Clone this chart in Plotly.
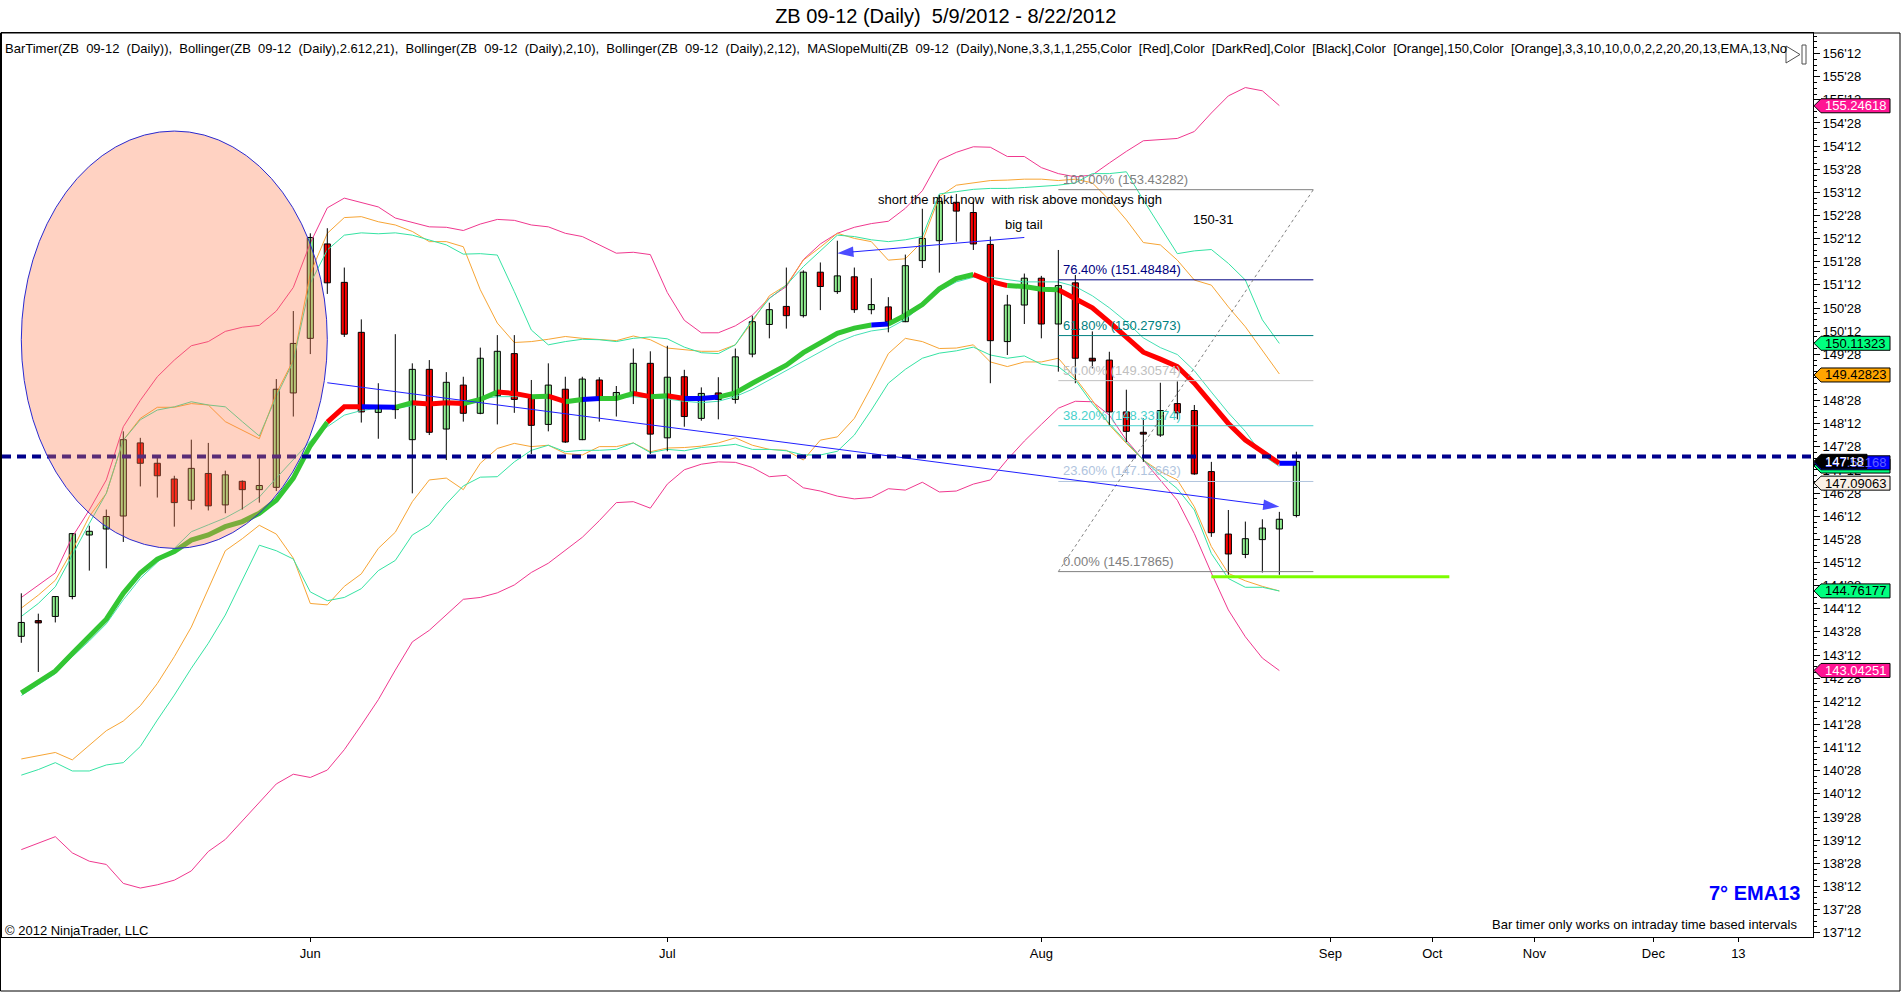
import plotly.graph_objects as go

# ZB 09-12 daily bars, index 0 = 5/9/2012 ... index 75 = 8/22/2012
opens = [143.78, 144.12, 144.21, 144.64, 145.97, 146.10, 146.38, 147.96, 147.52, 147.18,
         146.72, 147.30, 146.62, 147.13, 146.95, 147.00, 149.04, 150.22, 152.26, 151.43,
         150.35, 148.62, 148.75, 148.03, 149.55, 148.26, 149.21, 148.60, 148.98, 149.89,
         148.92, 148.36, 149.12, 148.03, 149.32, 148.90, 149.03, 149.68, 148.07, 149.39,
         148.49, 149.04, 148.90, 149.88, 150.52, 150.91, 150.71, 151.65, 151.23, 151.55,
         150.84, 150.90, 150.58, 151.90, 152.33, 153.16, 152.94, 152.25, 150.15, 150.94,
         151.52, 150.53, 151.42, 149.79, 149.75, 148.63, 148.19, 148.13, 148.81, 148.66,
         147.34, 145.99, 145.55, 145.87, 146.10, 146.39]
highs = [144.71, 144.27, 144.65, 146.01, 146.17, 146.52, 148.21, 148.07, 147.68, 147.25,
         148.03, 147.96, 147.36, 147.15, 147.68, 149.34, 150.81, 152.49, 152.60, 151.75,
         150.63, 149.25, 150.31, 149.68, 149.75, 149.49, 149.39, 150.02, 150.29, 150.29,
         149.32, 149.68, 149.39, 149.39, 149.38, 149.19, 150.00, 149.94, 150.06, 149.54,
         149.16, 149.38, 150.00, 150.71, 150.99, 151.75, 151.69, 151.86, 152.33, 151.75,
         151.52, 151.11, 152.03, 153.02, 153.32, 153.34, 153.18, 152.42, 151.16, 151.62,
         151.57, 152.13, 151.59, 150.37, 149.93, 149.11, 148.49, 149.26, 149.29, 148.78,
         147.55, 146.51, 146.26, 146.31, 146.47, 147.77]
lows = [143.64, 143.01, 144.08, 144.58, 145.20, 145.25, 145.82, 147.02, 146.78, 146.15,
        146.52, 146.50, 146.44, 146.52, 146.67, 146.92, 148.53, 149.88, 151.18, 150.25,
        148.40, 148.05, 148.48, 146.87, 148.13, 147.59, 148.42, 148.58, 148.36, 148.61,
        147.72, 148.21, 147.96, 148.02, 148.42, 148.53, 148.80, 147.72, 147.78, 148.31,
        148.44, 148.47, 148.81, 149.81, 150.22, 150.43, 150.67, 150.83, 151.18, 150.77,
        150.74, 150.35, 150.57, 151.74, 151.64, 152.31, 152.13, 149.25, 149.86, 150.53,
        150.22, 149.50, 149.25, 149.57, 148.35, 147.98, 147.55, 148.09, 148.47, 147.27,
        145.93, 145.11, 145.47, 145.16, 145.11, 146.35]
closes = [144.08, 144.07, 144.64, 146.00, 146.05, 146.37, 148.03, 147.52, 147.25, 146.67,
          147.41, 146.60, 147.27, 146.95, 147.04, 149.12, 150.11, 152.40, 151.42, 150.31,
          148.63, 148.76, 148.68, 149.55, 148.19, 149.27, 148.60, 149.79, 149.94, 148.90,
          148.34, 149.21, 147.98, 149.34, 148.92, 149.05, 149.68, 148.15, 149.38, 148.53,
          149.03, 148.90, 149.82, 150.58, 150.84, 150.71, 151.65, 151.34, 151.57, 150.84,
          150.95, 150.58, 151.79, 152.38, 153.18, 152.97, 152.26, 150.17, 150.94, 151.52,
          150.53, 151.36, 149.79, 149.73, 148.63, 148.21, 148.15, 148.66, 148.61, 147.29,
          146.02, 145.56, 145.89, 146.12, 146.31, 147.56]
darkred_bars = [1, 63, 66]

# Bollinger(2.612,21)
pink_upper = [144.62, 144.89, 145.15, 145.93, 146.51, 147.16, 148.31, 148.88, 149.39, 149.75,
              150.06, 150.15, 150.37, 150.46, 150.50, 150.81, 151.32, 152.28, 153.04, 153.25,
              153.16, 153.06, 152.82, 152.72, 152.63, 152.62, 152.55, 152.69, 152.79, 152.77,
              152.67, 152.63, 152.49, 152.42, 152.24, 152.06, 152.08, 152.03, 151.21, 150.61,
              150.34, 150.34, 150.49, 150.72, 151.09, 151.34, 151.92, 152.26, 152.49, 152.62,
              152.70, 152.75, 153.03, 153.41, 154.07, 154.24, 154.36, 154.35, 154.15, 154.15,
              153.91, 153.78, 153.71, 153.75, 154.01, 154.26, 154.49, 154.51, 154.54, 154.69,
              155.09, 155.46, 155.64, 155.57, 155.25]
pink_lower = [139.17, 139.31, 139.45, 139.10, 138.92, 138.85, 138.44, 138.34, 138.41, 138.51,
              138.71, 139.13, 139.39, 139.79, 140.19, 140.59, 140.80, 140.73, 140.89, 141.33,
              141.86, 142.41, 143.05, 143.66, 143.91, 144.24, 144.58, 144.62, 144.72, 144.89,
              145.16, 145.36, 145.63, 145.92, 146.28, 146.67, 146.69, 146.55, 147.07, 147.38,
              147.50, 147.55, 147.54, 147.43, 147.23, 147.26, 146.99, 146.92, 146.81, 146.75,
              146.78, 146.97, 146.94, 147.11, 146.90, 146.92, 147.07, 147.16, 147.60, 148.00,
              148.36, 148.71, 148.86, 148.85, 148.56, 148.02, 147.59, 147.16, 146.72, 146.00,
              145.15, 144.35, 143.77, 143.31, 143.04]
# Bollinger(2,10)
orange_upper = [144.39, 144.67, 144.99, 145.64, 146.37, 146.87, 148.02, 148.49, 148.73, 148.73,
                148.81, 148.78, 148.42, 148.24, 148.05, 149.03, 149.75, 151.62, 152.49, 152.83,
                152.85, 152.74, 152.67, 152.53, 152.31, 152.31, 152.20, 151.27, 150.55, 150.13,
                150.15, 150.20, 150.26, 150.22, 150.20, 150.17, 150.27, 150.19, 150.01, 149.97,
                149.94, 149.94, 150.08, 150.58, 151.14, 151.37, 151.91, 152.19, 152.49, 152.38,
                152.31, 151.91, 151.94, 152.31, 153.28, 153.53, 153.58, 153.63, 153.64, 153.66,
                153.66, 153.63, 153.66, 153.58, 153.21, 152.78, 152.29, 152.24, 151.91, 151.48,
                151.37, 150.90, 150.47, 149.96, 149.45]
orange_lower = [141.13, 141.20, 141.27, 141.11, 141.43, 141.74, 141.95, 142.28, 142.76, 143.34,
                143.98, 144.81, 145.63, 145.89, 146.18, 145.99, 145.47, 144.49, 144.46, 144.86,
                145.13, 145.68, 146.03, 146.69, 147.16, 147.20, 146.95, 147.52, 147.84, 147.95,
                147.88, 147.91, 147.73, 147.70, 147.88, 147.88, 147.96, 147.77, 147.85, 147.86,
                147.89, 147.96, 148.07, 147.91, 147.82, 147.80, 147.59, 148.02, 148.09, 148.49,
                149.17, 149.89, 150.22, 150.15, 150.00, 150.01, 150.08, 149.71, 149.61, 149.71,
                149.71, 149.79, 149.36, 148.88, 148.35, 147.95, 147.59, 147.34, 147.16, 146.58,
                145.72, 145.14, 144.98, 144.86, 144.76]
# Bollinger(2,12)
teal_upper = [144.21, 144.49, 144.85, 145.54, 146.22, 146.87, 148.02, 148.46, 148.67, 148.74,
              148.85, 148.78, 148.74, 148.42, 148.11, 148.96, 149.72, 151.41, 152.13, 152.45,
              152.50, 152.48, 152.50, 152.45, 152.35, 152.24, 152.04, 152.05, 152.02, 151.23,
              150.40, 150.08, 150.15, 150.20, 150.19, 150.15, 150.22, 150.25, 150.21, 150.03,
              149.91, 149.89, 150.08, 150.62, 151.08, 151.37, 151.77, 152.12, 152.45, 152.42,
              152.35, 152.31, 152.35, 152.42, 153.34, 153.39, 153.44, 153.46, 153.46, 153.48,
              153.51, 153.53, 153.58, 153.78, 153.78, 153.82, 153.21, 152.63, 152.05, 152.11,
              152.14, 151.84, 151.48, 150.62, 150.11]
teal_lower = [140.78, 140.90, 141.05, 140.87, 140.87, 141.00, 141.05, 141.40, 141.97, 142.51,
              143.09, 143.63, 144.24, 144.99, 145.75, 145.63, 145.45, 144.74, 144.55, 144.62,
              144.81, 145.20, 145.42, 145.97, 146.19, 146.64, 147.03, 147.22, 147.23, 147.55,
              147.80, 147.91, 147.77, 147.80, 147.80, 147.82, 147.96, 147.75, 147.82, 147.79,
              147.86, 147.89, 147.93, 147.82, 147.82, 147.79, 147.70, 147.70, 147.78, 148.13,
              148.67, 149.25, 149.55, 149.79, 149.90, 149.95, 150.03, 149.86, 149.79, 149.84,
              149.66, 149.61, 149.32, 148.81, 148.38, 147.98, 147.59, 147.27, 146.97, 146.51,
              145.57, 145.03, 144.84, 144.84, 144.76]
teal_mid = [142.50, 142.73, 142.97, 143.34, 143.68, 144.05, 144.57, 145.03, 145.38, 145.68,
            146.04, 146.19, 146.34, 146.54, 146.79, 147.20, 147.60, 148.00, 148.31, 148.56,
            148.66, 148.71, 148.71, 148.76, 148.81, 148.86, 148.86, 148.91, 148.96, 148.96,
            148.96, 148.93, 148.89, 148.91, 148.91, 148.93, 148.96, 148.93, 148.91, 148.86,
            148.83, 148.86, 148.96, 149.12, 149.32, 149.52, 149.72, 149.92, 150.13, 150.28,
            150.38, 150.43, 150.63, 150.94, 151.24, 151.44, 151.54, 151.54, 151.49, 151.44,
            151.44, 151.44, 151.34, 151.14, 150.88, 150.58, 150.23, 150.02, 149.87, 149.52,
            149.06, 148.61, 148.21, 147.70, 147.45]
# MASlopeMulti EMA13, slope colour per bar (G up, R down, B flat)
ema13 = [142.56, 142.80, 143.03, 143.41, 143.77, 144.15, 144.71, 145.15, 145.45, 145.61,
         145.86, 145.97, 146.15, 146.26, 146.44, 146.72, 147.20, 147.90, 148.41, 148.74,
         148.74, 148.73, 148.73, 148.83, 148.80, 148.83, 148.81, 148.90, 149.06, 149.03,
         148.96, 148.97, 148.85, 148.90, 148.92, 148.92, 149.03, 148.96, 148.98, 148.92,
         148.92, 148.95, 149.04, 149.25, 149.45, 149.64, 149.91, 150.11, 150.33, 150.44,
         150.51, 150.53, 150.72, 150.95, 151.29, 151.51, 151.60, 151.45, 151.36, 151.34,
         151.28, 151.27, 151.09, 150.88, 150.57, 150.25, 149.92, 149.77, 149.61, 149.25,
         148.81, 148.38, 148.02, 147.77, 147.52, 147.52]
ema_slope = ("GGGGGGGGGGGGGGGGGGG"
             "RRBBGRRRGGRRGRGBGGRGRBB"
             "GGGGGGGGGBGGGGGRRGGG"
             "RRRRRRRRRRRRRB")

# drawings
hline_level = 147.665
last_price = 147.5625
ellipse_box = [0.0, 18.0, 145.68, 154.70]
arrow_short = ([59.0, 48.0], [152.40, 152.06])
arrow_long = ([18.0, 74.0], [149.26, 146.58])
support_line = ([70, 84], [145.07, 145.07])
fib_x = [61, 76]
fib_pct = ["100.00%", "76.40%", "61.80%", "50.00%", "38.20%", "23.60%", "0.00%"]
fib_val = [153.43282, 151.48484, 150.27973, 149.30574, 148.33174, 147.12663, 145.17865]
fib_col = ["#808080", "#000080", "#008080", "#c0c0c0", "#48d1cc", "#b0c4de", "#808080"]
notes = [("short the mkt. now \u00a0with risk above mondays high", 50.3, 153.21),
         ("big tail", 57.75, 152.68),
         ("150-31", 68.8, 152.79)]

x_tick_pos = [17, 38, 60, 77, 83, 89, 96, 101]
x_tick_text = ["Jun", "Jul", "Aug", "Sep", "Oct", "Nov", "Dec", "13"]
y_tick_text = ["137'12", "137'28", "138'12", "138'28", "139'12", "139'28", "140'12", "140'28",
               "141'12", "141'28", "142'12", "142'28", "143'12", "143'28", "144'12", "144'28",
               "145'12", "145'28", "146'12", "146'28", "147'12", "147'28", "148'12", "148'28",
               "149'12", "149'28", "150'12", "150'28", "151'12", "151'28", "152'12", "152'28",
               "153'12", "153'28", "154'12", "154'28", "155'12", "155'28", "156'12"]
y_tick_vals = [int(t.split("'")[0]) + int(t.split("'")[1]) / 32 for t in y_tick_text]

# price markers on the right axis: value, fill, text colour, text
tags = [(155.24618, "#ff1493", "white", "155.24618"),
        (150.11323, "#00ff7f", "black", "150.11323"),
        (149.42823, "#ffa500", "black", "149.42823"),
        (147.09063, "#faf0e6", "black", "147.09063"),
        (144.76177, "#00ff7f", "black", "144.76177"),
        (143.04251, "#ff1493", "white", "143.04251")]

FONT = "Liberation Sans, Arial, sans-serif"
W, H = 1903, 994
L, R, T, B = 2, 90, 33, 57
plot_w = W - L - R
plot_h = H - T - B
y_range = [137.282, 156.819]
x_range = [-1.135, 105.39]
px_per_pt = plot_h / (y_range[1] - y_range[0])


def px(xp):
    return (xp - L) / plot_w


def py(yp):
    return 1 - (yp - T) / plot_h


fig = go.Figure()

# bollinger bands
for vals, col in [(pink_upper, "#f0388f"), (pink_lower, "#f0388f"),
                  (orange_upper, "#f7a535"), (orange_lower, "#f7a535"),
                  (teal_upper, "#35e3a3"), (teal_lower, "#35e3a3"),
                  (teal_mid, "#45e0b5")]:
    fig.add_trace(go.Scatter(x=list(range(len(vals))), y=vals, mode="lines",
                             line=dict(color=col, width=1), hoverinfo="skip"))

# EMA13 coloured by slope
ema_colors = {"G": "#33c633", "R": "#ff0000", "B": "#0000ff"}
i = 1
while i < len(ema13):
    j = i
    while j + 1 < len(ema13) and ema_slope[j + 1] == ema_slope[i]:
        j += 1
    fig.add_trace(go.Scatter(x=list(range(i - 1, j + 1)), y=ema13[i - 1:j + 1], mode="lines",
                             line=dict(color=ema_colors[ema_slope[i]], width=5),
                             hoverinfo="skip"))
    i = j + 1

# candles: wicks then bodies
wx, wy = [], []
for k in range(len(opens)):
    wx += [k, k, None]
    wy += [lows[k], highs[k], None]
fig.add_trace(go.Scatter(x=wx, y=wy, mode="lines", line=dict(color="black", width=1),
                         hoverinfo="skip"))

body_x, body_base, body_h, body_col = [], [], [], []
for k in range(len(opens)):
    body_x.append(k)
    body_base.append(min(opens[k], closes[k]))
    body_h.append(abs(closes[k] - opens[k]))
    if k in darkred_bars:
        body_col.append("#8b0000")
    elif closes[k] >= opens[k]:
        body_col.append("#90ee90")
    else:
        body_col.append("#ff0000")
fig.add_trace(go.Bar(x=body_x, y=body_h, base=body_base, width=0.36,
                     marker=dict(color=body_col, line=dict(color="black", width=1)),
                     hoverinfo="skip"))

# fibonacci retracement
for pct, val, col in zip(fib_pct, fib_val, fib_col):
    fig.add_trace(go.Scatter(x=fib_x, y=[val, val], mode="lines",
                             line=dict(color=col, width=1), hoverinfo="skip"))
    fig.add_annotation(x=fib_x[0] + 0.15, y=val, xref="x", yref="y", text=f"{pct} ({val:.5f})",
                       showarrow=False, xanchor="left", yanchor="bottom", yshift=1,
                       font=dict(family=FONT, size=13, color=col))
fig.add_trace(go.Scatter(x=fib_x, y=[fib_val[-1], fib_val[0]], mode="lines",
                         line=dict(color="#808080", width=1, dash="dot"), hoverinfo="skip"))

# trend lines with arrow heads
for ax_, ay_ in [arrow_short, arrow_long]:
    fig.add_trace(go.Scatter(x=ax_, y=ay_, mode="lines+markers",
                             line=dict(color="#2020ff", width=1),
                             marker=dict(symbol="arrow", size=[0, 17], color="#0000ff",
                                         angleref="previous", line=dict(width=0)),
                             hoverinfo="skip"))

fig.add_trace(go.Scatter(x=support_line[0], y=support_line[1], mode="lines",
                         line=dict(color="#7cfc00", width=3), hoverinfo="skip"))

for txt, nx, ny in notes:
    fig.add_annotation(x=nx, y=ny, xref="x", yref="y", text=txt, showarrow=False,
                       xanchor="left", yanchor="middle",
                       font=dict(family=FONT, size=13, color="black"))

# dashed horizontal line and the ellipse
fig.add_shape(type="line", xref="paper", yref="y", x0=0, x1=1,
              y0=hline_level, y1=hline_level, layer="above",
              line=dict(color="#00008b", width=4, dash="9px,6px"))
fig.add_shape(type="circle", xref="x", yref="y", x0=ellipse_box[0], x1=ellipse_box[1],
              y0=ellipse_box[2], y1=ellipse_box[3], layer="above",
              fillcolor="rgba(255,127,80,0.35)", line=dict(color="#2a2ad0", width=1))


# right axis price markers
def add_tag(value, fill, tcolor, text, right=77):
    hh = 7 / px_per_pt
    x_tip, x_box, x_end = 1 + 1 / plot_w, 1 + 8 / plot_w, 1 + right / plot_w
    path = (f"M {x_tip},{value} L {x_box},{value + hh} L {x_end},{value + hh} "
            f"L {x_end},{value - hh} L {x_box},{value - hh} Z")
    fig.add_shape(type="path", xref="paper", yref="y", path=path, layer="above",
                  fillcolor=fill, line=dict(color="black", width=1))
    fig.add_annotation(x=1 + (8 + right) / 2 / plot_w, y=value, xref="paper", yref="y",
                       text=text, showarrow=False, xanchor="center", yanchor="middle",
                       font=dict(family=FONT, size=13, color=tcolor))


for v, f, tc, t in tags:
    add_tag(v, f, tc, t)
add_tag(147.46, "#00ff7f", "black", "")
add_tag(147.53, "#0000ff", "#6060ff", "147.52168")
add_tag(last_price, "black", "white", "147'18", right=54)

# outer frame and the small bar-timer icon
fig.add_shape(type="rect", xref="paper", yref="paper", x0=px(0.5), x1=px(1900),
              y0=py(991), y1=py(T), line=dict(color="black", width=1), layer="above")
fig.add_shape(type="path", xref="paper", yref="paper",
              path=f"M {px(1786)},{py(46)} L {px(1786)},{py(63)} L {px(1800)},{py(54.5)} Z",
              line=dict(color="#505050", width=1), fillcolor="white", layer="above")
fig.add_shape(type="rect", xref="paper", yref="paper", x0=px(1802), x1=px(1806),
              y0=py(64), y1=py(45), line=dict(color="#505050", width=1),
              fillcolor="white", layer="above")

# texts
indicators = ("BarTimer(ZB \u00a009-12 \u00a0(Daily)), \u00a0Bollinger(ZB \u00a009-12 \u00a0(Daily),2.612,21), "
              "\u00a0Bollinger(ZB \u00a009-12 \u00a0(Daily),2,10), \u00a0Bollinger(ZB \u00a009-12 \u00a0(Daily),2,12), "
              "\u00a0MASlopeMulti(ZB \u00a009-12 \u00a0(Daily),None,3,3,1,1,255,Color \u00a0[Red],Color \u00a0[DarkRed],"
              "Color \u00a0[Black],Color \u00a0[Orange],150,Color \u00a0[Orange],3,3,10,10,0,0,2,2,20,20,13,EMA,13,No")
fig.add_annotation(x=px(3), y=py(48), xref="paper", yref="paper", text=indicators,
                   showarrow=False, xanchor="left", yanchor="middle",
                   font=dict(family=FONT, size=13, color="black"))
fig.add_annotation(x=px(1802), y=py(893), xref="paper", yref="paper", text="<b>7° EMA13</b>",
                   showarrow=False, xanchor="right", yanchor="middle",
                   font=dict(family=FONT, size=20, color="#0000ff"))
fig.add_annotation(x=px(1799), y=py(924), xref="paper", yref="paper",
                   text="Bar timer only works on intraday time based intervals",
                   showarrow=False, xanchor="right", yanchor="middle",
                   font=dict(family=FONT, size=13, color="black"))
fig.add_annotation(x=px(3), y=py(930), xref="paper", yref="paper",
                   text="© 2012 NinjaTrader, LLC", showarrow=False,
                   xanchor="left", yanchor="middle",
                   font=dict(family=FONT, size=13, color="black"))

fig.update_layout(
    width=W, height=H,
    margin=dict(l=L, r=R, t=T, b=B),
    paper_bgcolor="white", plot_bgcolor="white",
    showlegend=False, barmode="overlay",
    font=dict(family=FONT, size=13, color="black"),
    title=dict(text="ZB 09-12 (Daily) \u00a05/9/2012 - 8/22/2012", x=0.497, xref="container",
               y=1 - 16 / H, yref="container", xanchor="center", yanchor="middle",
               font=dict(family=FONT, size=20, color="black")),
    hovermode=False,
)
fig.update_xaxes(range=x_range, tickmode="array", tickvals=x_tick_pos, ticktext=x_tick_text,
                 showgrid=False, zeroline=False, showline=True, linecolor="black",
                 linewidth=1, mirror=True, ticks="outside", ticklen=4, tickcolor="black",
                 tickfont=dict(family=FONT, size=13, color="black"))
fig.update_yaxes(range=y_range, side="right", tickmode="array", tickvals=y_tick_vals,
                 ticktext=y_tick_text, showgrid=False, zeroline=False, showline=True,
                 linecolor="black", linewidth=1, mirror=True, ticks="outside", ticklen=6,
                 tickcolor="black", tickfont=dict(family=FONT, size=13, color="black"),
                 minor=dict(tickmode="linear", tick0=137.375, dtick=0.125, ticks="outside",
                            ticklen=3, tickcolor="black"))

fig.write_html("out.html", config={"displayModeBar": False},
               post_script="document.body.style.margin='0';document.body.style.overflow='hidden';")
